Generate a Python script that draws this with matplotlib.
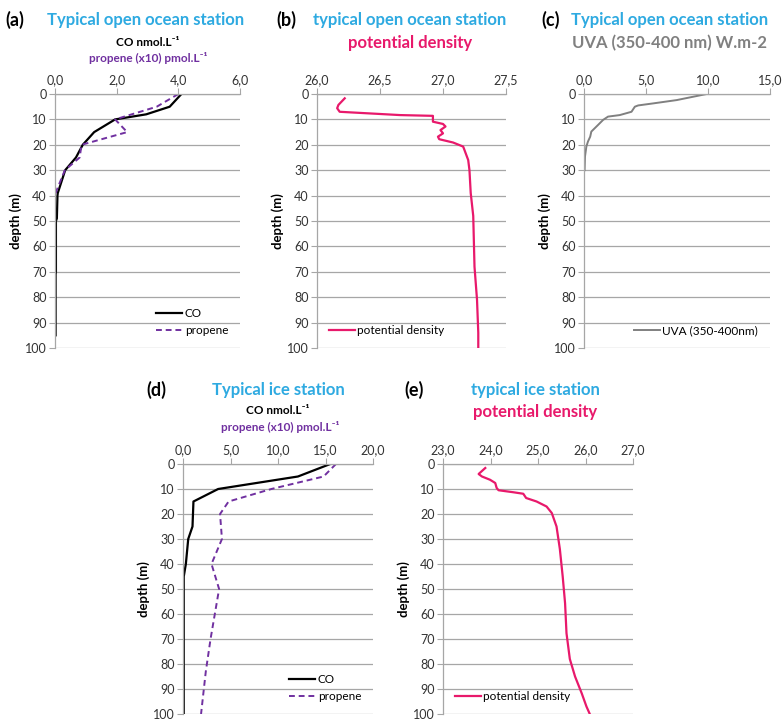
import numpy as np
import matplotlib
matplotlib.use("Agg")
import matplotlib.pyplot as plt
from matplotlib.ticker import FuncFormatter

plt.rcParams["font.family"] = ["Lato", "DejaVu Sans"]

CYAN = "#2eaae1"
PINK = "#e8196b"
PURPLE = "#7030a0"
GREY_LINE = "#808080"
GRID = "#a6a6a6"

# ── (a) open ocean station: CO and propene
a_co_depth = [0, 5, 8, 10, 15, 20, 25, 30, 39, 40, 49, 50, 70, 71, 95]
a_co = [4.1, 3.72, 2.96, 1.95, 1.27, 0.9, 0.68, 0.33, 0.09, 0.08, 0.06, 0.03, 0.03, 0.02, 0.02]
a_pr_depth = [0, 5, 10, 15, 20, 25, 30, 38, 40, 100]
a_pr = [4.0, 3.3, 1.95, 2.34, 0.86, 0.8, 0.32, 0.05, 0.0, 0.0]

# ── (b) open ocean station: potential density
b_depth = [1.7, 4.3, 5.6, 7.0, 7.3, 8.3, 8.6, 10.9, 11.8, 12.8, 14.2, 15.5, 16.8,
           17.8, 19.1, 20.7, 22, 26, 30, 39, 48, 68, 81, 94, 100]
b_dens = [26.22, 26.17, 26.16, 26.18, 26.29, 26.66, 26.92, 26.92, 27.0, 27.02, 26.98,
          27.0, 26.96, 26.97, 27.08, 27.16, 27.17, 27.2, 27.21, 27.22, 27.24, 27.25,
          27.27, 27.28, 27.28]

# ── (c) open ocean station: UVA
c_depth = [0, 2.4, 3.7, 4.5, 5, 7, 8.3, 8.9, 10.2, 12.2, 14.8, 16.8, 18.7, 20.7, 24.6, 30]
c_uva = [9.89, 7.47, 5.58, 4.37, 4.1, 3.83, 2.88, 1.94, 1.54, 1.13, 0.59, 0.5, 0.32,
         0.19, 0.08, 0.05]

# ── (d) ice station: CO and propene
d_co_depth = [0, 5, 10, 15, 25, 30, 40, 45, 100]
d_co = [15.5, 12.1, 3.7, 1.1, 1.0, 0.55, 0.3, 0.08, 0.08]
d_pr_depth = [0, 5, 10, 15, 20, 30, 40, 50, 70, 83, 100]
d_pr = [16.1, 14.8, 9.3, 4.8, 3.9, 4.1, 3.0, 3.8, 2.9, 2.4, 1.9]

# ── (e) ice station: potential density
e_depth = [1.6, 4, 5, 6.3, 7.6, 9.6, 10.5, 11.3, 11.9, 13.6, 15, 17, 19.6, 25, 34, 45,
           55.7, 67.7, 78, 85, 91.7, 97, 100]
e_dens = [23.89, 23.75, 23.82, 23.99, 24.1, 24.13, 24.17, 24.48, 24.69, 24.75, 24.97,
          25.18, 25.29, 25.39, 25.46, 25.52, 25.57, 25.6, 25.67, 25.78, 25.92, 26.02, 26.09]

depth_ticks = list(range(0, 101, 10))

W, H = 783, 722
fig = plt.figure(figsize=(W / 100, H / 100), dpi=100)


def make_ax(l, r, t, b):
    return fig.add_axes([l / W, 1 - b / H, (r - l) / W, (b - t) / H])


def style(ax, xmin, xmax, xstep):
    ax.set_ylim(100, 0)
    ax.set_xlim(xmin, xmax)
    ax.set_yticks(depth_ticks)
    ax.set_xticks(np.arange(xmin, xmax + xstep / 2, xstep))
    ax.xaxis.set_major_formatter(FuncFormatter(lambda v, p: f"{v:.1f}".replace(".", ",")))
    ax.xaxis.tick_top()
    ax.tick_params(axis="both", labelsize=9, colors=GRID, labelcolor="#333333",
                   length=4, width=0.8, direction="out", pad=2)
    ax.grid(True, axis="y", color=GRID, linewidth=0.9)
    ax.set_axisbelow(True)
    for s in ["right", "bottom"]:
        ax.spines[s].set_visible(False)
    for s in ["left", "top"]:
        ax.spines[s].set_color(GRID)
        ax.spines[s].set_linewidth(0.9)
    ax.set_ylabel("depth (m)", fontsize=9.5, fontweight="bold", labelpad=2)


def legend(ax, loc):
    ax.legend(loc=loc, frameon=False, fontsize=8.5, handlelength=2.2,
              handletextpad=0.2, borderaxespad=0.6, labelspacing=0.5)


# (a)
ax = make_ax(55, 240, 94, 348)
ax.plot(a_co, a_co_depth, color="black", lw=1.6, label="CO")
ax.plot(a_pr, a_pr_depth, color=PURPLE, lw=1.4, ls=(0, (3, 2)), label="propene")
style(ax, 0, 6, 2)
legend(ax, "lower right")

# (b)
ax = make_ax(317, 506, 94, 348)
ax.plot(b_dens, b_depth, color=PINK, lw=1.6, label="potential density")
style(ax, 26, 27.5, 0.5)
legend(ax, "lower left")

# (c)
ax = make_ax(584, 770, 94, 348)
ax.plot(c_uva, c_depth, color=GREY_LINE, lw=1.4, label="UVA (350-400nm)")
style(ax, 0, 15, 5)
legend(ax, "lower right")

# (d)
ax = make_ax(183, 373, 464, 714)
ax.plot(d_co, d_co_depth, color="black", lw=1.6, label="CO")
ax.plot(d_pr, d_pr_depth, color=PURPLE, lw=1.4, ls=(0, (3, 2)), label="propene")
style(ax, 0, 20, 5)
legend(ax, "lower right")

# (e)
ax = make_ax(443, 633, 464, 714)
ax.plot(e_dens, e_depth, color=PINK, lw=1.6, label="potential density")
style(ax, 23, 27, 1)
legend(ax, "lower left")

# ── titles
def txt(x, y, s, color="black", size=12, ha="center"):
    fig.text(x / W, 1 - y / H, s, color=color, fontsize=size, fontweight="bold",
             ha=ha, va="center")

SUP = "\u207b\u00b9"

txt(5, 20, "(a)", size=13, ha="left")
txt(146, 20, "Typical open ocean station", CYAN, 12)
txt(148, 42, "CO nmol.L" + SUP, "black", 8.5)
txt(148, 58, "propene (x10) pmol.L" + SUP, PURPLE, 8.5)

txt(276, 20, "(b)", size=13, ha="left")
txt(410, 20, "typical open ocean station", CYAN, 12)
txt(410, 43, "potential density", PINK, 12)

txt(541, 20, "(c)", size=13, ha="left")
txt(670, 20, "Typical open ocean station", CYAN, 12)
txt(670, 43, "UVA (350-400 nm) W.m-2", "#808080", 12)

txt(146, 390, "(d)", size=13, ha="left")
txt(278, 390, "Typical ice station", CYAN, 12)
txt(278, 410, "CO nmol.L" + SUP, "black", 8.5)
txt(280, 427, "propene (x10) pmol.L" + SUP, PURPLE, 8.5)

txt(404, 390, "(e)", size=13, ha="left")
txt(535, 390, "typical ice station", CYAN, 12)
txt(535, 412, "potential density", PINK, 12)

fig.savefig("out.png", dpi=100)
